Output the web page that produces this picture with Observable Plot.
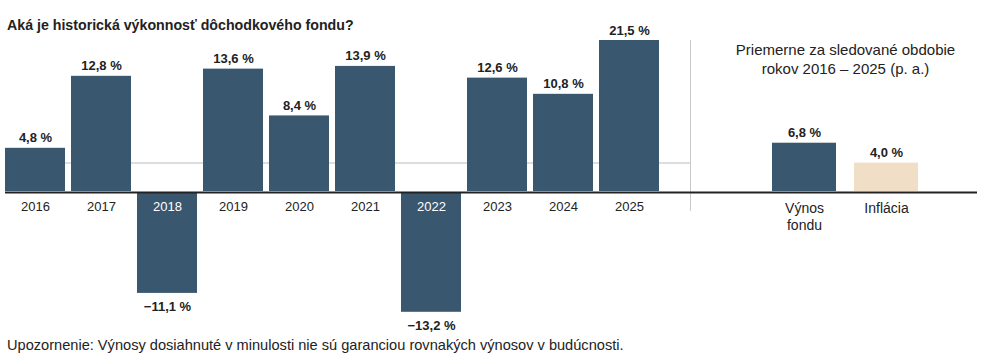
<!DOCTYPE html>
<html>
<head>
<meta charset="utf-8">
<script src="https://cdn.jsdelivr.net/npm/d3@7"></script>
<script src="https://cdn.jsdelivr.net/npm/@observablehq/plot@0.6"></script>
<style>
  html, body { margin: 0; padding: 0; background: #fff; }
  body { width: 996px; height: 361px; overflow: hidden; font-family: "Liberation Sans", Arial, sans-serif; color: #222; }
  #title { font-size: 14.2px; font-weight: 700; line-height: 16px; height: 16px; padding: 17px 0 0 7px; margin-bottom: -13px; white-space: nowrap; }
  #chart { position: relative; width: 996px; height: 317px; }
  #chart svg { position: absolute; left: 0; top: 0; }
  #caption { font-size: 14.6px; line-height: 16px; padding-left: 7px; white-space: nowrap; }
</style>
</head>
<body>
<div id="title">Aká je historická výkonnosť dôchodkového fondu?</div>
<div id="chart"></div>
<div id="caption">Upozornenie: Výnosy dosiahnuté v minulosti nie sú garanciou rovnakých výnosov v budúcnosti.</div>
<script>
// ---- data ----
const years = ["2016", "2017", "2018", "2019", "2020", "2021", "2022", "2023", "2024", "2025"];
const returns = [4.8, 12.8, -11.1, 13.6, 8.4, 13.9, -13.2, 12.6, 10.8, 21.5];
const avgCategories = ["Výnos fondu", "Inflácia"];
const avgTickLabels = ["Výnos\nfondu", "Inflácia"];
const avgValues = [6.8, 4.0];
const panelHeader = "Priemerne za sledované obdobie\nrokov 2016 – 2025 (p. a.)";

// ---- styles ----
const DARK = "#3a5770";
const BEIGE = "#f0dfc6";
const INK = "#222222";
const FONT = "'Liberation Sans', Arial, sans-serif";

const fmt = v => (v < 0 ? "\u2212" : "") + Math.abs(v).toFixed(1).replace(".", ",") + " %";

const yearData = years.map((y, i) => ({year: y, v: returns[i]}));
const pos = yearData.filter(d => d.v >= 0);
const neg = yearData.filter(d => d.v < 0);
const avgData = avgCategories.map((c, i) => ({cat: c, v: avgValues[i], tick: avgTickLabels[i]}));

const chart = document.getElementById("chart");

// Right panel (drawn underneath): averages, inflation reference line, separator
const right = Plot.plot({
  width: 996, height: 317,
  marginLeft: 5, marginRight: 306, marginTop: 20, marginBottom: 127,
  style: {background: "transparent", fontFamily: FONT, color: INK},
  x: {type: "band", domain: avgCategories, range: [753.5, 937], padding: 0.224, axis: null},
  y: {domain: [0, 10], range: [171, 100], axis: null},
  color: {domain: avgCategories, range: [DARK, BEIGE]},
  marks: [
    Plot.frame({anchor: "right", stroke: "#c9c9c9", strokeWidth: 1}),
    Plot.ruleY([avgValues[1]], {stroke: "#dddddd", strokeWidth: 2}),
    Plot.barY(avgData, {x: "cat", y: "v", fill: "cat"}),
    Plot.text(avgData, {x: "cat", y: "v", text: d => fmt(d.v), lineAnchor: "bottom", dy: -6, fontWeight: 700, fontSize: 13, fill: INK}),
    Plot.text(avgData, {x: "cat", y: 0, text: "tick", lineAnchor: "top", dy: 10, lineHeight: 1.2, fontSize: 14, fill: INK}),
    Plot.text([panelHeader], {x: () => avgCategories[0], text: d => d, frameAnchor: "top", lineAnchor: "top", dy: 1, dx: 41, lineHeight: 1.27, fontSize: 15, fill: INK})
  ]
});

// Left panel (drawn on top): yearly returns
const left = Plot.plot({
  width: 996, height: 317,
  marginLeft: 0, marginRight: 306, marginTop: 0, marginBottom: 0,
  style: {background: "transparent", fontFamily: FONT, color: INK},
  x: {type: "band", domain: years, range: [-1, 665], padding: 6 / 66, axis: null},
  y: {domain: [-15, 16.78], range: [306, 20], clamp: true, axis: null},
  marks: [
    Plot.barY(pos, {x: "year", y: "v", fill: DARK}),
    Plot.barY(neg, {x: "year", y: "v", fill: DARK, dy: 2}),
    Plot.ruleY([0], {stroke: INK, strokeWidth: 2, dy: 1, insetLeft: 5, insetRight: -287}),
    Plot.text(pos, {x: "year", y: "v", text: d => fmt(d.v), lineAnchor: "bottom", dy: -6, fontWeight: 700, fontSize: 13, fill: INK}),
    Plot.text(neg, {x: "year", y: "v", text: d => fmt(d.v), lineAnchor: "top", dy: 10, fontWeight: 700, fontSize: 13, fill: INK}),
    Plot.text(yearData, {x: "year", y: 0, text: "year", lineAnchor: "top", dy: 10, fontSize: 13, fill: d => d.v < 0 ? "#ffffff" : INK})
  ]
});

chart.appendChild(right);
chart.appendChild(left);
</script>
</body>
</html>
